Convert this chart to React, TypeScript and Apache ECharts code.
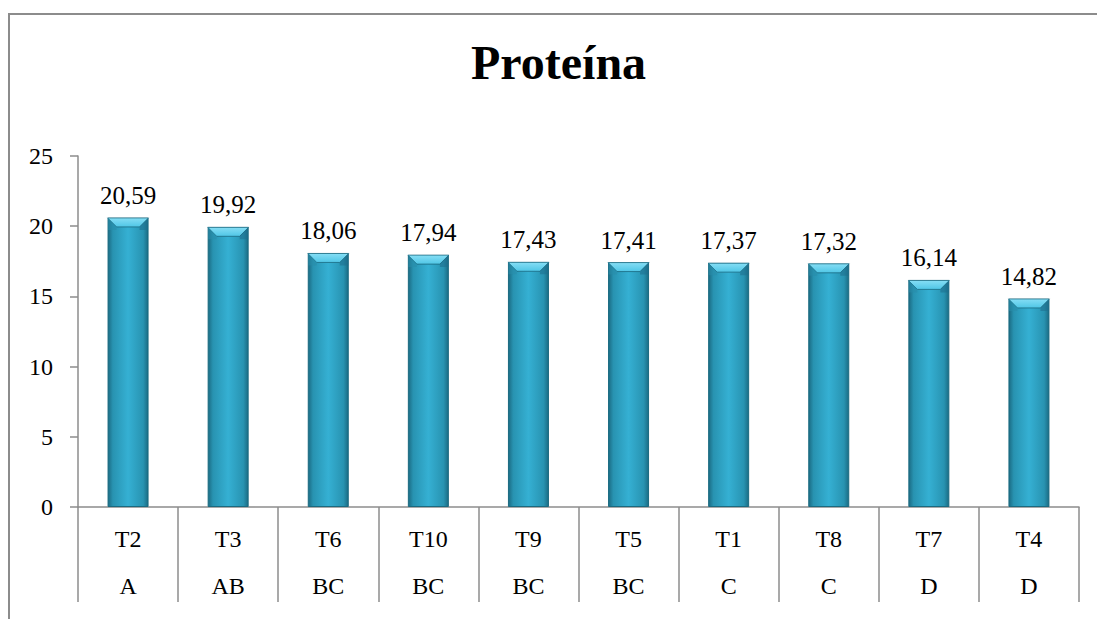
import React, { useEffect, useRef } from "react";
import * as echarts from "echarts";

const categories = ["T2", "T3", "T6", "T10", "T9", "T5", "T1", "T8", "T7", "T4"];
const groups = ["A", "AB", "BC", "BC", "BC", "BC", "C", "C", "D", "D"];
const values = [20.59, 19.92, 18.06, 17.94, 17.43, 17.41, 17.37, 17.32, 16.14, 14.82];
const yTicks = [0, 5, 10, 15, 20, 25];

const FONT = "'Liberation Serif', 'Times New Roman', serif";
const BAR_W = 41;
const BEVEL = 9;

export default function App() {
  const ref = useRef<HTMLDivElement>(null);
  useEffect(() => {
    document.body.style.margin = "0";
    const chart = echarts.init(ref.current!, null, { renderer: "svg" });
    const barColor = new echarts.graphic.LinearGradient(0, 0, 1, 0, [
      { offset: 0, color: "#1b6c84" },
      { offset: 0.12, color: "#2893b1" },
      { offset: 0.5, color: "#35b0d3" },
      { offset: 0.88, color: "#2893b1" },
      { offset: 1, color: "#1b6c84" },
    ]);
    chart.setOption({
      animation: false,
      backgroundColor: "#ffffff",
      title: {
        text: "Proteína",
        left: 466,
        top: 33,
        textStyle: { fontFamily: FONT, fontSize: 48, fontWeight: "bold", color: "#000" },
      },
      grid: { left: 78, right: 18, top: 156, bottom: 112, containLabel: false },
      xAxis: {
        type: "category",
        data: categories.map((c, i) => c + "\n" + groups[i]),
        axisLine: { show: true, lineStyle: { color: "#8c8c8c", width: 1.5 } },
        axisTick: { show: true, length: 95, lineStyle: { color: "#8c8c8c", width: 1.5 } },
        axisLabel: {
          interval: 0,
          margin: 8,
          fontFamily: FONT,
          fontSize: 24,
          lineHeight: 47,
          color: "#000",
        },
      },
      yAxis: {
        type: "value",
        min: yTicks[0],
        max: yTicks[yTicks.length - 1],
        interval: 5,
        splitLine: { show: false },
        axisLine: { show: true, lineStyle: { color: "#8c8c8c", width: 1.5 } },
        axisTick: { show: true, length: 8, lineStyle: { color: "#8c8c8c", width: 1.5 } },
        axisLabel: { margin: 25, fontFamily: FONT, fontSize: 24, color: "#000" },
      },
      graphic: [
        {
          type: "rect",
          shape: { x: 9, y: 14, width: 1200, height: 800 },
          style: { fill: "none", stroke: "#8c8c8c", lineWidth: 2 },
          silent: true,
        },
      ],
      series: [
        {
          type: "bar",
          data: values,
          barWidth: BAR_W,
          itemStyle: { color: barColor, borderColor: "#1a6a80", borderWidth: 1 },
          label: {
            show: true,
            position: "top",
            distance: 10,
            fontFamily: FONT,
            fontSize: 25,
            color: "#000",
            formatter: (p: any) => p.value.toFixed(2).replace(".", ","),
          },
        },
        {
          type: "custom",
          data: values.map((v, i) => [i, v]),
          silent: true,
          z: 5,
          renderItem: (params: any, api: any) => {
            const top = api.coord([api.value(0), api.value(1)]);
            const x0 = top[0] - BAR_W / 2;
            const x1 = top[0] + BAR_W / 2;
            const yt = top[1];
            return {
              type: "group",
              children: [
                {
                  type: "polygon",
                  shape: {
                    points: [
                      [x0, yt],
                      [x1, yt],
                      [x1 - BEVEL, yt + BEVEL],
                      [x0 + BEVEL, yt + BEVEL],
                    ],
                  },
                  style: {
                    fill: new echarts.graphic.LinearGradient(0, 0, 0, 1, [
                      { offset: 0, color: "#86def5" },
                      { offset: 1, color: "#4fc6e6" },
                    ]),
                    stroke: "#1a6a80",
                    lineWidth: 0.8,
                  },
                },
                {
                  type: "polygon",
                  shape: {
                    points: [
                      [x0 + 0.5, yt],
                      [x0 + BEVEL, yt + BEVEL],
                      [x0 + BEVEL, yt + BEVEL + 3],
                      [x0 + 0.5, yt + BEVEL + 3],
                    ],
                  },
                  style: { fill: "rgba(40,140,170,0.55)" },
                },
                {
                  type: "polygon",
                  shape: {
                    points: [
                      [x1 - 0.5, yt],
                      [x1 - BEVEL, yt + BEVEL],
                      [x1 - BEVEL, yt + BEVEL + 3],
                      [x1 - 0.5, yt + BEVEL + 3],
                    ],
                  },
                  style: { fill: "rgba(30,110,140,0.55)" },
                },
              ],
            };
          },
        },
      ],
    });
    return () => chart.dispose();
  }, []);
  return <div ref={ref} style={{ width: 1097, height: 619 }} />;
}
